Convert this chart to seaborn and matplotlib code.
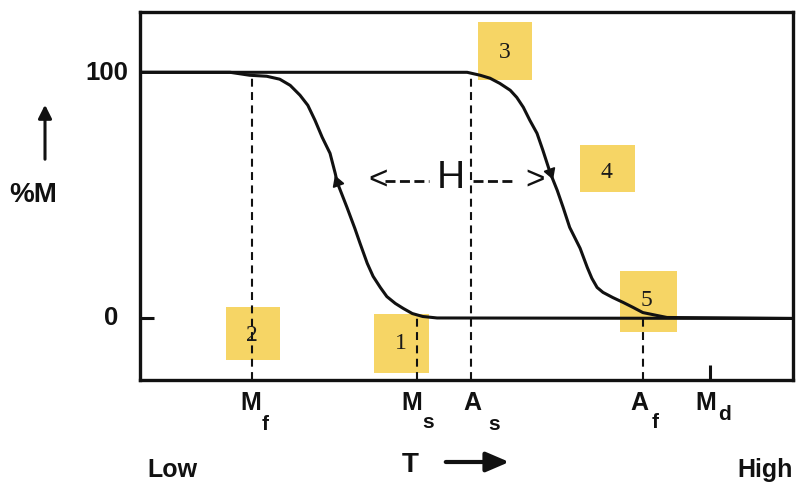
import matplotlib
matplotlib.use("Agg")
import matplotlib.pyplot as plt
import matplotlib.transforms as mtransforms
from matplotlib.patches import Rectangle, FancyArrowPatch
import pandas as pd
import seaborn as sns

# Transformation temperatures along the T axis (arbitrary units, 0 = low, 100 = high)
temp_letters = ["M", "M", "A", "A", "M"]
temp_subs = ["f", "s", "s", "f", "d"]
temp_values = [17.2, 42.4, 50.7, 77.0, 87.3]

# Cooling branch: martensite fraction (%M) vs temperature
cool_T = [0.0, 13.8, 16.8, 19.4, 21.4, 23.0, 24.5, 25.7, 26.8, 27.9, 29.1, 29.9,
          30.2, 31.7, 32.9, 33.7, 34.8, 35.7, 36.8, 37.8, 39.1, 40.3, 41.7, 43.3,
          45.5, 100.0]
cool_M = [100.0, 100.0, 98.8, 98.4, 97.2, 94.7, 90.7, 86.6, 80.5, 73.6, 67.1, 58.9,
          55.3, 45.1, 36.6, 30.5, 22.4, 17.1, 12.6, 8.9, 6.1, 4.1, 2.0, 0.8,
          0.2, 0.0]

# Heating branch: martensite fraction (%M) vs temperature
heat_T = [0.0, 50.1, 52.1, 53.6, 55.1, 56.7, 57.7, 58.7, 59.7, 60.8, 61.7, 62.8,
          63.9, 64.8, 65.8, 67.4, 68.5, 69.2, 70.0, 70.9, 72.4, 74.0, 75.5, 77.0,
          79.2, 80.7, 100.0]
heat_M = [100.0, 100.0, 98.8, 97.6, 95.5, 92.7, 89.8, 85.8, 80.5, 75.2, 68.3, 59.3,
          52.0, 45.1, 37.0, 28.5, 20.7, 16.3, 12.6, 10.6, 8.5, 6.5, 4.5, 2.4,
          1.2, 0.4, 0.0]

# Numbered stages of the transformation cycle
stage_labels = ["1", "2", "3", "4", "5"]

cool_df = pd.DataFrame({"T": cool_T, "M": cool_M})
heat_df = pd.DataFrame({"T": heat_T, "M": heat_M})

sns.set_theme(style="white")
plt.rcParams["font.family"] = ["Liberation Sans", "DejaVu Sans"]

W, H = 801, 487
fig = plt.figure(figsize=(W / 100, H / 100), dpi=100)
fig.patch.set_facecolor("white")
ax = fig.add_axes([140 / W, 1 - 380 / H, 653 / W, 368 / H])
ax.set_facecolor("white")
ax.set_xlim(0, 100)
ax.set_ylim(-25, 124.5)

# pixel-style placement helper for the free text around the frame
px = mtransforms.Affine2D().scale(1 / W, -1 / H).translate(0, 1) + fig.transFigure

yellow = "#F6D565"
# stage boxes: (x0, x1, y0, y1) in data units and the label centre
boxes = [
    ((35.8, 44.3, -22.0, 2.0), (40.0, -10.2)),
    ((13.2, 21.4, -16.7, 4.5), (17.15, -6.9)),
    ((51.8, 60.0, 96.7, 120.3), (55.9, 108.1)),
    ((67.4, 75.8, 51.2, 70.3), (71.5, 59.3)),
    ((73.5, 82.2, -5.3, 19.1), (77.6, 7.3)),
]
for lab, ((x0, x1, y0, y1), (tx, ty)) in zip(stage_labels, boxes):
    ax.add_patch(Rectangle((x0, y0), x1 - x0, y1 - y0, facecolor=yellow,
                           edgecolor="none", zorder=1))
    ax.text(tx, ty, lab, ha="center", va="center", fontsize=17,
            family=["Liberation Serif", "DejaVu Serif"], color="#1a1a1a", zorder=6)

# hysteresis branches
sns.lineplot(data=cool_df, x="T", y="M", sort=False, estimator=None,
             color="#111111", lw=2.2, ax=ax, zorder=4)
sns.lineplot(data=heat_df, x="T", y="M", sort=False, estimator=None,
             color="#111111", lw=2.2, ax=ax, zorder=4)
for ln in ax.get_lines():
    ln.set_solid_joinstyle("round")

# direction arrowheads on each branch
ax.plot(cool_T[12], cool_M[12], marker=(3, 0, 20), ms=9, color="#111111", zorder=5)
ax.plot(heat_T[11], heat_M[11], marker=(3, 0, 200), ms=9, color="#111111", zorder=5)

# dashed guides at the transformation temperatures
dash = (0, (3.8, 2.6))
Mf, Ms, As, Af, Md = temp_values
ax.vlines(Mf, -25, 98.8, colors="#111111", lw=1.5, linestyles=dash, zorder=3)
ax.vlines(Ms, -25, 0, colors="#111111", lw=1.5, linestyles=dash, zorder=3)
ax.vlines(As, -25, 100, colors="#111111", lw=1.5, linestyles=dash, zorder=3)
ax.vlines(Af, -25, 0, colors="#111111", lw=1.5, linestyles=dash, zorder=3)
ax.vlines(Md, -25, -19, colors="#111111", lw=2.2, zorder=3)

# hysteresis width marker  <--- H --->
ax.hlines(55.7, 37.5, 44.2, colors="#111111", lw=2.0, linestyles=(0, (3.6, 1.6)), zorder=3)
ax.hlines(55.7, 51.0, 57.3, colors="#111111", lw=2.0, linestyles=(0, (3.6, 1.6)), zorder=3)
ax.text(36.5, 55.7, "<", ha="center", va="center", fontsize=24, color="#111111")
ax.text(60.5, 55.7, ">", ha="center", va="center", fontsize=24, color="#111111")
ax.text(47.6, 57.0, "H", ha="center", va="center", fontsize=28, color="#111111")

# frame
for s in ax.spines.values():
    s.set_visible(True)
    s.set_color("#111111")
    s.set_linewidth(2.4)
ax.set_xticks([])
ax.set_yticks([0])
ax.tick_params(axis="y", direction="in", length=10, width=2.2, color="#111111",
               labelleft=False, left=True)
ax.set_xlabel("")
ax.set_ylabel("")

# y labels
ax.text(128, 80, "100", transform=px, ha="right", va="baseline",
        fontsize=18.5, fontweight="bold", color="#111111")
ax.text(118, 325, "0", transform=px, ha="right", va="baseline",
        fontsize=18.5, fontweight="bold", color="#111111")
ax.text(9, 202, "%M", transform=px, ha="left", va="baseline",
        fontsize=20, fontweight="bold", color="#111111")
fig.patches.append(FancyArrowPatch((45, 162), (45, 102), transform=px,
                                   arrowstyle="-|>,head_length=8,head_width=4",
                                   lw=2.2, color="#111111", mutation_scale=1))

# temperature labels under the axis
sub_offsets = [(262, 430), (422, 428), (488, 430), (652, 428), (718, 420)]
main_lefts = [240, 401, 463, 630, 695]
for L, sub, left, (sx, sy) in zip(temp_letters, temp_subs, main_lefts, sub_offsets):
    ax.text(left, 410, L, transform=px, ha="left", va="baseline",
            fontsize=18, fontweight="bold", color="#111111")
    ax.text(sx, sy, sub, transform=px, ha="left", va="baseline",
            fontsize=15, fontweight="bold", color="#111111")

# axis direction text
ax.text(147, 477, "Low", transform=px, ha="left", va="baseline",
        fontsize=18, fontweight="bold", color="#111111")
ax.text(793, 477, "High", transform=px, ha="right", va="baseline",
        fontsize=18, fontweight="bold", color="#111111")
ax.text(402, 472, "T", transform=px, ha="left", va="baseline",
        fontsize=20, fontweight="bold", color="#111111")
fig.patches.append(FancyArrowPatch((443, 462), (512, 462), transform=px,
                                   arrowstyle="-|>,head_length=14,head_width=6",
                                   lw=3.0, color="#111111", mutation_scale=1))

fig.savefig("out.png", dpi=100, facecolor="white")
